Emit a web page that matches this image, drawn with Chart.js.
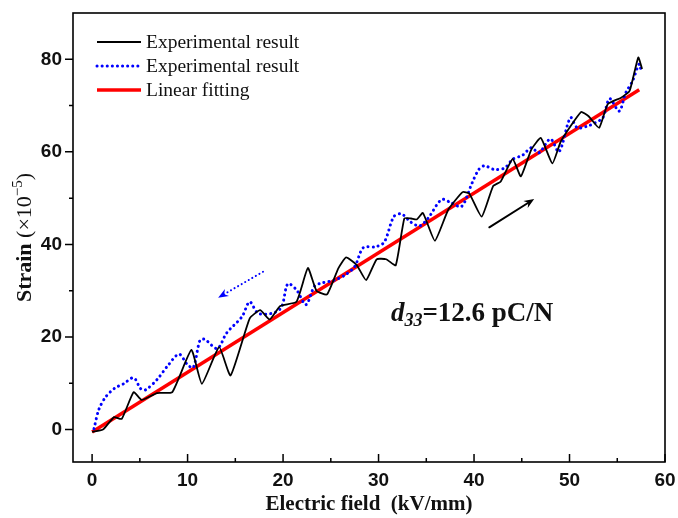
<!DOCTYPE html>
<html>
<head>
<meta charset="utf-8">
<script src="https://cdn.jsdelivr.net/npm/chart.js@4.4.0/dist/chart.umd.min.js"></script>
<style>
  html, body { margin: 0; padding: 0; background: #fff; }
  #wrap { width: 678px; height: 518px; }
</style>
</head>
<body>
<div id="wrap"><canvas id="chart" width="678" height="518"></canvas></div>
<script>
// datos (campo en kV/mm, deformacion en 1e-5)
const blackX = [0, 0.6, 1.2, 2.3, 3.1, 4.35, 5.2, 6.8, 8.4, 10.4, 11.5, 13.3, 14.5, 16.5, 17.6, 18.6, 19.7, 21.4, 22.6, 23.5, 24.6, 25.8, 26.6, 27.7, 28.7, 29.8, 30.8, 31.8, 32.7, 33.4, 34.0, 34.65, 35.9, 37.3, 38.8, 39.5, 40.8, 42.0, 42.8, 44.05, 44.9, 46.0, 47.0, 48.2, 49.1, 51.2, 52.0, 53.1, 54.0, 55.4, 56.3, 57.2, 57.6];
const blackY = [-0.5, -0.3, 0.1, 2.7, 2.3, 8.1, 6.4, 7.9, 8.1, 17.2, 9.9, 17.8, 11.7, 24.0, 25.8, 23.8, 26.7, 27.6, 34.9, 30.0, 29.2, 34.9, 37.2, 35.6, 32.3, 36.8, 36.8, 35.5, 45.6, 45.6, 45.4, 46.8, 40.8, 47.5, 51.3, 51.0, 46.0, 52.6, 53.6, 58.5, 54.7, 60.5, 63.0, 57.5, 62.3, 68.6, 67.7, 65.2, 70.3, 71.7, 73.2, 80.4, 77.9];

const blueX = [0.2, 0.7, 1.4, 2.4, 3.3, 4.35, 5.1, 5.6, 6.8, 8.0, 9.1, 10.0, 10.6, 11.3, 11.8, 13.1, 14.1, 15.7, 16.5, 17.4, 19.0, 19.85, 20.5, 21.4, 22.4, 23.3, 24.1, 25.4, 26.5, 27.5, 28.4, 29.7, 30.6, 31.6, 32.4, 33.4, 34.3, 35.2, 36.6, 37.6, 38.7, 39.8, 40.5, 41.1, 42.1, 43.2, 44.05, 45.1, 46.0, 46.8, 48.0, 48.9, 50.1, 50.8, 51.8, 52.7, 53.5, 54.2, 55.2, 55.9, 56.6, 57.3, 57.5];
const blueY = [0.2, 4.3, 7.0, 9.0, 9.9, 11.2, 8.8, 8.6, 10.8, 14.0, 16.3, 14.0, 13.4, 19.3, 19.5, 17.5, 20.9, 24.4, 27.6, 25.1, 25.2, 26.5, 31.5, 30.2, 27.0, 31.0, 31.7, 32.3, 33.4, 35.2, 39.3, 39.5, 40.5, 46.0, 46.6, 44.8, 44.0, 45.7, 49.7, 49.0, 48.2, 53.3, 56.2, 57.0, 56.2, 56.5, 58.4, 59.3, 60.9, 59.8, 62.8, 60.0, 67.4, 65.2, 65.5, 66.3, 67.4, 71.5, 68.8, 72.8, 75.3, 79.0, 77.5];

const fitX = [0, 57.3];
const fitY = [-0.5, 73.4];

const xTicks = [0, 10, 20, 30, 40, 50, 60];
const yTicks = [0, 20, 40, 60, 80];
const xMinor = [5, 15, 25, 35, 45, 55];
const yMinor = [10, 30, 50, 70];

const legendLabels = ['Experimental result', 'Experimental result', 'Linear fitting'];

const SERIF = "'Liberation Serif', 'Times New Roman', serif";
const SANS = "'Liberation Sans', Arial, sans-serif";

function pares(xs, ys) {
  return xs.map((x, i) => ({ x: x, y: ys[i] }));
}

function sinPadding(s) {
  s.paddingTop = 0;
  s.paddingBottom = 0;
  s.paddingLeft = 0;
  s.paddingRight = 0;
}

function flecha(ctx, x1, y1, x2, y2, color, dash) {
  const ang = Math.atan2(y2 - y1, x2 - x1);
  ctx.save();
  ctx.strokeStyle = color;
  ctx.fillStyle = color;
  ctx.lineWidth = 2;
  ctx.lineCap = 'round';
  if (dash) ctx.setLineDash(dash);
  ctx.beginPath();
  ctx.moveTo(x1, y1);
  ctx.lineTo(x2 - 6 * Math.cos(ang), y2 - 6 * Math.sin(ang));
  ctx.stroke();
  ctx.setLineDash([]);
  ctx.beginPath();
  ctx.moveTo(x2, y2);
  ctx.lineTo(x2 - 11 * Math.cos(ang - 0.38), y2 - 11 * Math.sin(ang - 0.38));
  ctx.lineTo(x2 - 7 * Math.cos(ang), y2 - 7 * Math.sin(ang));
  ctx.lineTo(x2 - 11 * Math.cos(ang + 0.38), y2 - 11 * Math.sin(ang + 0.38));
  ctx.closePath();
  ctx.fill();
  ctx.restore();
}

const decoracion = {
  id: 'decoracion',
  afterDatasetsDraw(chart) {
    const ctx = chart.ctx;
    const a = chart.chartArea;
    const sx = chart.scales.x;
    const sy = chart.scales.y;

    ctx.save();
    // marco
    ctx.strokeStyle = '#000';
    ctx.lineWidth = 1.6;
    ctx.strokeRect(a.left, a.top, a.right - a.left, a.bottom - a.top);

    // ticks del eje x hacia dentro
    ctx.lineWidth = 1.5;
    ctx.beginPath();
    xTicks.forEach(v => {
      const px = sx.getPixelForValue(v);
      ctx.moveTo(px, a.bottom);
      ctx.lineTo(px, a.bottom - 8);
    });
    xMinor.forEach(v => {
      const px = sx.getPixelForValue(v);
      ctx.moveTo(px, a.bottom);
      ctx.lineTo(px, a.bottom - 4);
    });
    // ticks del eje y hacia fuera
    yTicks.forEach(v => {
      const py = sy.getPixelForValue(v);
      ctx.moveTo(a.left, py);
      ctx.lineTo(a.left - 8, py);
    });
    yMinor.forEach(v => {
      const py = sy.getPixelForValue(v);
      ctx.moveTo(a.left, py);
      ctx.lineTo(a.left - 4, py);
    });
    ctx.stroke();

    // leyenda
    const ds = chart.data.datasets;
    const lx = a.left + 24;
    ctx.font = '19.5px ' + SERIF;
    ctx.textBaseline = 'middle';
    ctx.fillStyle = '#111';
    ds.forEach((d, i) => {
      const ly = a.top + 29 + i * 24;
      ctx.save();
      ctx.strokeStyle = d.borderColor;
      ctx.lineWidth = d.borderWidth;
      ctx.lineCap = d.borderCapStyle || 'butt';
      ctx.setLineDash(d.borderDash || []);
      ctx.beginPath();
      ctx.moveTo(lx, ly);
      ctx.lineTo(lx + 44, ly);
      ctx.stroke();
      ctx.restore();
      ctx.fillText(legendLabels[i], lx + 49, ly + 1);
    });

    // flechas
    flecha(ctx, sx.getPixelForValue(41.6), sy.getPixelForValue(43.7),
      sx.getPixelForValue(46.3), sy.getPixelForValue(49.8), '#000', null);
    flecha(ctx, sx.getPixelForValue(17.9), sy.getPixelForValue(34.1),
      sx.getPixelForValue(13.2), sy.getPixelForValue(28.5), '#0000ff', [0.1, 4]);

    // anotacion d33
    let tx = sx.getPixelForValue(31.3);
    const ty = sy.getPixelForValue(23.4);
    ctx.textBaseline = 'alphabetic';
    ctx.fillStyle = '#111';
    ctx.font = 'italic bold 27px ' + SERIF;
    ctx.fillText('d', tx, ty);
    tx += ctx.measureText('d').width;
    ctx.font = 'italic bold 18px ' + SERIF;
    ctx.fillText('33', tx, ty + 5);
    tx += ctx.measureText('33').width;
    ctx.font = 'bold 27px ' + SERIF;
    ctx.fillText('=12.6 pC/N', tx, ty);

    // titulo del eje y
    const partes = [
      { t: 'Strain ', f: 'bold 22px ' + SERIF, dy: 0 },
      { t: '(\u00d710', f: '22px ' + SERIF, dy: 0 },
      { t: '\u22125', f: '15px ' + SERIF, dy: -9 },
      { t: ')', f: '22px ' + SERIF, dy: 0 }
    ];
    let total = 0;
    partes.forEach(p => { ctx.font = p.f; p.w = ctx.measureText(p.t).width; total += p.w; });
    ctx.translate(31, (a.top + a.bottom) / 2);
    ctx.rotate(-Math.PI / 2);
    let px = -total / 2;
    partes.forEach(p => {
      ctx.font = p.f;
      ctx.fillText(p.t, px, p.dy);
      px += p.w;
    });
    ctx.restore();
  }
};

const ctx = document.getElementById('chart').getContext('2d');
const myChart = new Chart(ctx, {
  type: 'line',
  data: {
    datasets: [
      {
        label: legendLabels[0],
        data: pares(blackX, blackY),
        borderColor: '#000000',
        borderWidth: 1.8,
        tension: 0.15,
        pointRadius: 0,
        fill: false
      },
      {
        label: legendLabels[1],
        data: pares(blueX, blueY),
        borderColor: '#0000ff',
        borderWidth: 3,
        borderDash: [0.1, 5],
        borderCapStyle: 'round',
        tension: 0.3,
        pointRadius: 0,
        fill: false
      },
      {
        label: legendLabels[2],
        data: pares(fitX, fitY),
        borderColor: '#ff0000',
        borderWidth: 3.5,
        pointRadius: 0,
        fill: false
      }
    ]
  },
  options: {
    responsive: false,
    animation: false,
    events: [],
    layout: { padding: { top: 13, right: 13, left: 0, bottom: 0 } },
    plugins: {
      legend: { display: false },
      tooltip: { enabled: false }
    },
    scales: {
      x: {
        type: 'linear',
        min: -2,
        max: 60,
        grid: { display: false, drawTicks: false },
        border: { display: false },
        afterBuildTicks: s => { s.ticks = xTicks.map(v => ({ value: v })); },
        afterFit: s => { s.height = 56; sinPadding(s); },
        ticks: {
          color: '#111',
          padding: 7,
          maxRotation: 0,
          font: { family: SANS, size: 19, weight: 'bold' }
        },
        title: {
          display: true,
          text: 'Electric field  (kV/mm)',
          color: '#111',
          padding: { top: 0, bottom: 1 },
          font: { family: SERIF, size: 21, weight: 'bold' }
        }
      },
      y: {
        type: 'linear',
        min: -7,
        max: 90,
        grid: { display: false, drawTicks: false },
        border: { display: false },
        afterBuildTicks: s => { s.ticks = yTicks.map(v => ({ value: v })); },
        afterFit: s => { s.width = 73; sinPadding(s); },
        ticks: {
          color: '#111',
          padding: 11,
          font: { family: SANS, size: 19, weight: 'bold' }
        }
      }
    }
  },
  plugins: [decoracion]
});
</script>
</body>
</html>
